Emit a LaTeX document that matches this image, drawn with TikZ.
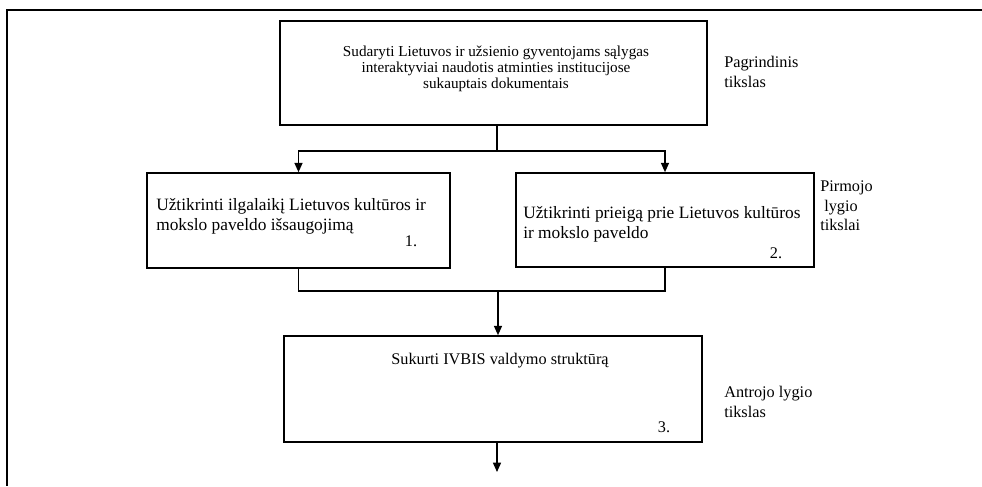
\documentclass[tikz,border=0pt]{standalone}
\usepackage{fontspec}
\setmainfont{Liberation Serif}
\usetikzlibrary{arrows.meta}
\begin{document}
\begin{tikzpicture}[x=0.75pt,y=-0.75pt,
  boxst/.style={draw,line width=1.2pt,inner sep=0pt,minimum width=#1},
  lbl/.style={inner sep=0pt,font=\fontsize{12.2}{14.5}\selectfont},
  sidelbl/.style={inner sep=0pt,font=\fontsize{13}{14.8}\selectfont},
  toplbl/.style={inner sep=0pt,font=\fontsize{11.4}{12.2}\selectfont},
  arr/.style={line width=1.1pt,-{Triangle[length=7pt,width=6pt]}},
  ln/.style={line width=1.1pt}]
\useasboundingbox (0,0) rectangle (982,486);
% outer frame
\coordinate (fr) at (982,10);
\coordinate (fc) at (7,10);
\coordinate (fb) at (7,486);
\draw[line width=1.2pt] (fr) -- (fc) -- (fb);
% boxes
\node[boxst=427*0.75pt,minimum height=104*0.75pt] (top) at (493.5,73) {};
\node[boxst=303*0.75pt,minimum height=95*0.75pt] (left) at (298.5,220.5) {};
\node[boxst=298*0.75pt,minimum height=94*0.75pt] (right) at (665,220) {};
\node[boxst=418*0.75pt,minimum height=106*0.75pt] (bot) at (493,389) {};
% texts
\node[toplbl,align=center] (ttop) at (496,69) {Sudaryti Lietuvos ir užsienio gyventojams sąlygas\\interaktyviai naudotis atminties institucijose\\sukauptais dokumentais};
\node[sidelbl,align=left,anchor=west] (tleft) at (156,216) {Užtikrinti ilgalaikį Lietuvos kultūros ir\\mokslo paveldo išsaugojimą};
\node[lbl,anchor=center] (n1) at (411,241) {1.};
\node[sidelbl,align=left,anchor=west] (tright) at (523,224) {Užtikrinti prieigą prie Lietuvos kultūros\\ir mokslo paveldo};
\node[lbl,anchor=center] (n2) at (776,253) {2.};
\node[lbl] (tbot) at (500,361) {Sukurti IVBIS valdymo struktūrą};
\node[lbl,anchor=center] (n3) at (664,427) {3.};
% side labels
\node[lbl,align=left,anchor=west] (s1) at (724,72) {Pagrindinis\\tikslas};
\node[lbl,align=left,anchor=west] (s2) at (820,206) {Pirmojo\\\hspace{3pt}lygio\\tikslai};
\node[lbl,align=left,anchor=west] (s3) at (724,402) {Antrojo lygio\\tikslas};
% connectors
\coordinate (split) at (497,151);
\coordinate (merge) at (498,291);
\coordinate (endp) at (497,472);
\draw[ln] (top.south -| split) -- (split);
\draw[arr] (split) -| (left.north);
\draw[arr] (split) -| (right.north);
\draw[ln] (left.south) |- (merge);
\draw[ln] (right.south) |- (merge);
\draw[arr] (merge) -- (merge |- bot.north);
\draw[arr] (bot.south -| endp) -- (endp);
\end{tikzpicture}
\end{document}
